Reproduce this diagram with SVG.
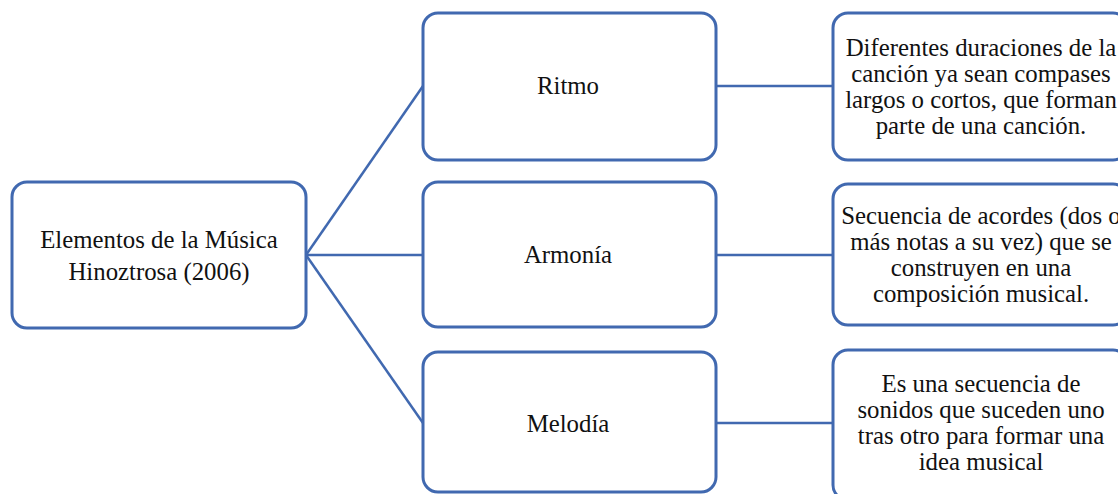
<svg xmlns="http://www.w3.org/2000/svg" width="1118" height="494" viewBox="0 0 1118 494">
<style>
.box{fill:#fff;stroke:#4169b0;stroke-width:3}
.c{stroke:#4169b0;stroke-width:2.5;fill:none}
text{font-family:"Liberation Serif","Times New Roman",serif;font-size:24.8px;fill:#111;text-anchor:middle}
</style>
<rect width="1118" height="494" fill="#fff"/>
<g id="connectors">
<line class="c" x1="306" y1="255" x2="423" y2="86"/>
<line class="c" x1="306" y1="255" x2="423" y2="255"/>
<line class="c" x1="306" y1="255" x2="423" y2="423"/>
<line class="c" x1="716" y1="86" x2="833" y2="86"/>
<line class="c" x1="716" y1="255" x2="833" y2="255"/>
<line class="c" x1="716" y1="423" x2="833" y2="423"/>
</g>
<g id="root">
<rect class="box" x="12" y="182" width="294" height="146" rx="15"/>
<text x="159" y="248">Elementos de la Música</text>
<text x="159" y="280">Hinoztrosa (2006)</text>
</g>
<g id="ritmo">
<rect class="box" x="423" y="13" width="293" height="147" rx="15"/>
<text x="568" y="94">Ritmo</text>
</g>
<g id="armonia">
<rect class="box" x="423" y="182" width="293" height="145" rx="15"/>
<text x="568" y="263">Armonía</text>
</g>
<g id="melodia">
<rect class="box" x="423" y="352" width="293" height="140" rx="15"/>
<text x="568" y="432">Melodía</text>
</g>
<g id="ritmo-desc">
<rect class="box" x="833" y="13" width="295" height="147" rx="15"/>
<text x="981" y="56">Diferentes duraciones de la</text>
<text x="981" y="82">canción ya sean compases</text>
<text x="981" y="108">largos o cortos, que forman</text>
<text x="981" y="134">parte de una canción.</text>
</g>
<g id="armonia-desc">
<rect class="box" x="833" y="184" width="295" height="141" rx="15"/>
<text x="981" y="224">Secuencia de acordes (dos o</text>
<text x="981" y="250">más notas a su vez) que se</text>
<text x="981" y="276">construyen en una</text>
<text x="981" y="302">composición musical.</text>
</g>
<g id="melodia-desc">
<rect class="box" x="833" y="350" width="295" height="150" rx="15"/>
<text x="981" y="392">Es una secuencia de</text>
<text x="981" y="418">sonidos que suceden uno</text>
<text x="981" y="444">tras otro para formar una</text>
<text x="981" y="470">idea musical</text>
</g>
</svg>
